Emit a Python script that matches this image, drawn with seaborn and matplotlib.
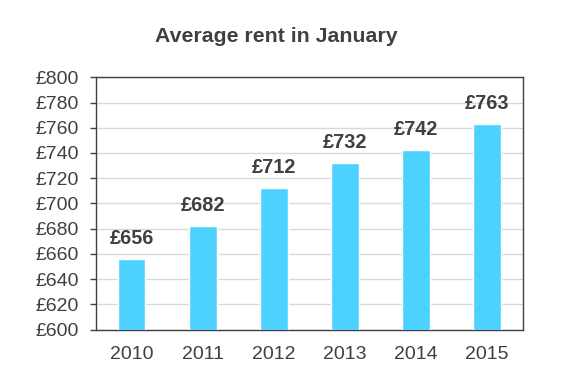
import matplotlib
matplotlib.use("Agg")
import matplotlib.pyplot as plt
import seaborn as sns
import pandas as pd

years = ["2010", "2011", "2012", "2013", "2014", "2015"]
rents = [656, 682, 712, 732, 742, 763]
yticks = list(range(600, 801, 20))

sns.set_style("white")
plt.rcParams["font.family"] = ["Liberation Sans", "DejaVu Sans"]

df = pd.DataFrame({"year": years, "rent": rents})
dark = "#404040"

fig = plt.figure(figsize=(5.67, 3.92), dpi=100)
ax = fig.add_axes([0.1693, 0.1594, 0.7526, 0.6434])
sns.barplot(data=df, x="year", y="rent", color="#4DD2FF", saturation=1,
            width=0.39, ax=ax, zorder=3)

ax.set_ylim(600, 800)
ax.set_xlim(-0.5, 5.5)
ax.set_yticks(yticks)
ax.set_yticklabels([f"£{v}" for v in yticks])
ax.yaxis.grid(True, color="#d9d9d9", linewidth=1, zorder=0)
ax.set_axisbelow(True)

# year labels in the middle, tick marks between categories
ax.set_xticks(range(len(years)))
ax.set_xticks([i - 0.5 for i in range(len(years) + 1)], minor=True)
ax.tick_params(axis="x", which="major", length=0, pad=12, labelsize=14, colors=dark)
ax.tick_params(axis="x", which="minor", length=5, width=1, color=dark, direction="out")
ax.tick_params(axis="y", length=4.5, width=1, color=dark, direction="out", pad=8,
               labelsize=14, labelcolor=dark, left=True)

for s in ax.spines.values():
    s.set_visible(True)
    s.set_color(dark)
    s.set_linewidth(1)

for i, v in enumerate(rents):
    ax.text(i, v + 12, f"£{v}", ha="center", va="baseline", fontsize=14.3,
            fontweight="bold", color=dark)

ax.set_xlabel("")
ax.set_ylabel("")
fig.text(0.487, 0.906, "Average rent in January", ha="center", va="center",
         fontsize=15.3, fontweight="bold", color=dark)

fig.savefig("out.png", dpi=100)
